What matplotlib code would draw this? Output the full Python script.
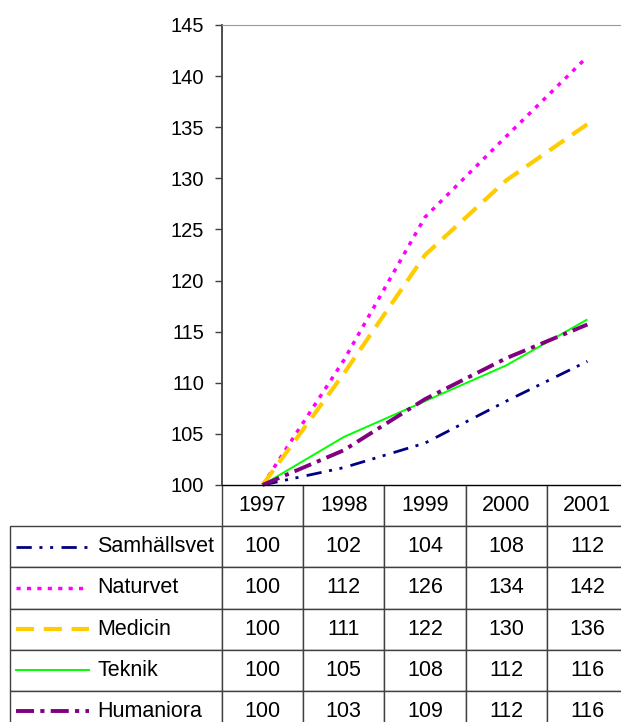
import numpy as np
import matplotlib.pyplot as plt

plt.rcParams['font.family'] = ['Liberation Sans', 'DejaVu Sans']
plt.rcParams['lines.scale_dashes'] = False

years = ['1997', '1998', '1999', '2000', '2001']
names = ['Samhällsvet', 'Naturvet', 'Medicin', 'Teknik', 'Humaniora']

# index values as drawn by the lines
samhallsvet = [100, 101.7, 104.1, 108.2, 112.1]
naturvet = [100, 112.2, 126.2, 134.1, 141.9]
medicin = [100, 110.9, 122.5, 129.8, 135.3]
teknik = [100, 104.7, 108.2, 111.7, 116.2]
humaniora = [100, 103.4, 108.4, 112.4, 115.7]

# rounded values printed in the data table
tab_samhallsvet = [100, 102, 104, 108, 112]
tab_naturvet = [100, 112, 126, 134, 142]
tab_medicin = [100, 111, 122, 130, 136]
tab_teknik = [100, 105, 108, 112, 116]
tab_humaniora = [100, 103, 109, 112, 116]

yticks = [100, 105, 110, 115, 120, 125, 130, 135, 140, 145]

lines = [samhallsvet, naturvet, medicin, teknik, humaniora]
tab_rows = [tab_samhallsvet, tab_naturvet, tab_medicin, tab_teknik, tab_humaniora]
colors = ['#000080', '#ff00ff', '#ffcc00', '#00ff00', '#800080']
styles = [(0, (11, 5.5, 2.2, 5.5, 2.2, 6)),
          (0, (3.0, 4.5)),
          (0, (13, 7)),
          '-',
          (0, (13, 4.5, 3, 4.5))]
widths = [2.0, 2.5, 3.0, 1.4, 2.8]

# layout in pixels of the 621x722 picture
W, H = 621, 722
ax_l, ax_r, ax_t, ax_b = 222, 628, 25, 485
tab_l, tab_b = 10, 732

fig = plt.figure(figsize=(W / 100, H / 100), dpi=100)
ax = fig.add_axes([ax_l / W, (H - ax_b) / H, (ax_r - ax_l) / W, (ax_b - ax_t) / H])

x = np.arange(len(years))
for vals, c, ls, lw in zip(lines, colors, styles, widths):
    ax.plot(x, vals, color=c, linestyle=ls, linewidth=lw, clip_on=False,
            dash_capstyle='butt', solid_capstyle='butt')

ax.set_xlim(-0.5, len(years) - 0.5)
ax.set_ylim(100, 145)
ax.set_xticks([])
ax.set_yticks(yticks)
ax.tick_params(axis='y', direction='out', length=5, width=1, pad=8,
               labelsize=14.5, color='#404040')

ax.spines['right'].set_visible(False)
ax.spines['left'].set_color('#404040')
ax.spines['left'].set_linewidth(1.3)
ax.spines['top'].set_color('#999999')
ax.spines['bottom'].set_color('black')

# data table below the plot
axw = ax_r - ax_l
axh = ax_b - ax_t
cell_text = [[''] + years] + [[n] + [str(v) for v in r] for n, r in zip(names, tab_rows)]
label_w = ax_l - tab_l
col_w = [label_w] + [axw / len(years)] * len(years)
tbl = ax.table(cellText=cell_text, cellLoc='center', colWidths=col_w,
               bbox=[(tab_l - ax_l) / axw, -(tab_b - ax_b) / axh,
                     (ax_r - tab_l) / axw, (tab_b - ax_b) / axh])
tbl.auto_set_font_size(False)
tbl.set_fontsize(15.5)
for (r, c), cell in tbl.get_celld().items():
    cell.set_edgecolor('#404040')
    cell.set_linewidth(1.0)
    if r == 0 and c == 0:
        cell.visible_edges = 'open'
    if c == 0 and r > 0:
        cell._loc = 'left'
        cell.PAD = (97 - tab_l) / label_w
        cell.get_text().set_horizontalalignment('left')

# legend keys inside the label column
n_rows = len(names) + 1
row_h = (tab_b - ax_b) / n_rows
for i, (c, ls, lw) in enumerate(zip(colors, styles, widths)):
    yc = ax_b + row_h * (i + 1.5)
    ya = -(yc - ax_b) / axh
    ax.plot([(16 - ax_l) / axw, (89 - ax_l) / axw], [ya, ya], transform=ax.transAxes,
            color=c, linestyle=ls, linewidth=lw, clip_on=False, dash_capstyle='butt')

fig.savefig('out.png', dpi=100)
